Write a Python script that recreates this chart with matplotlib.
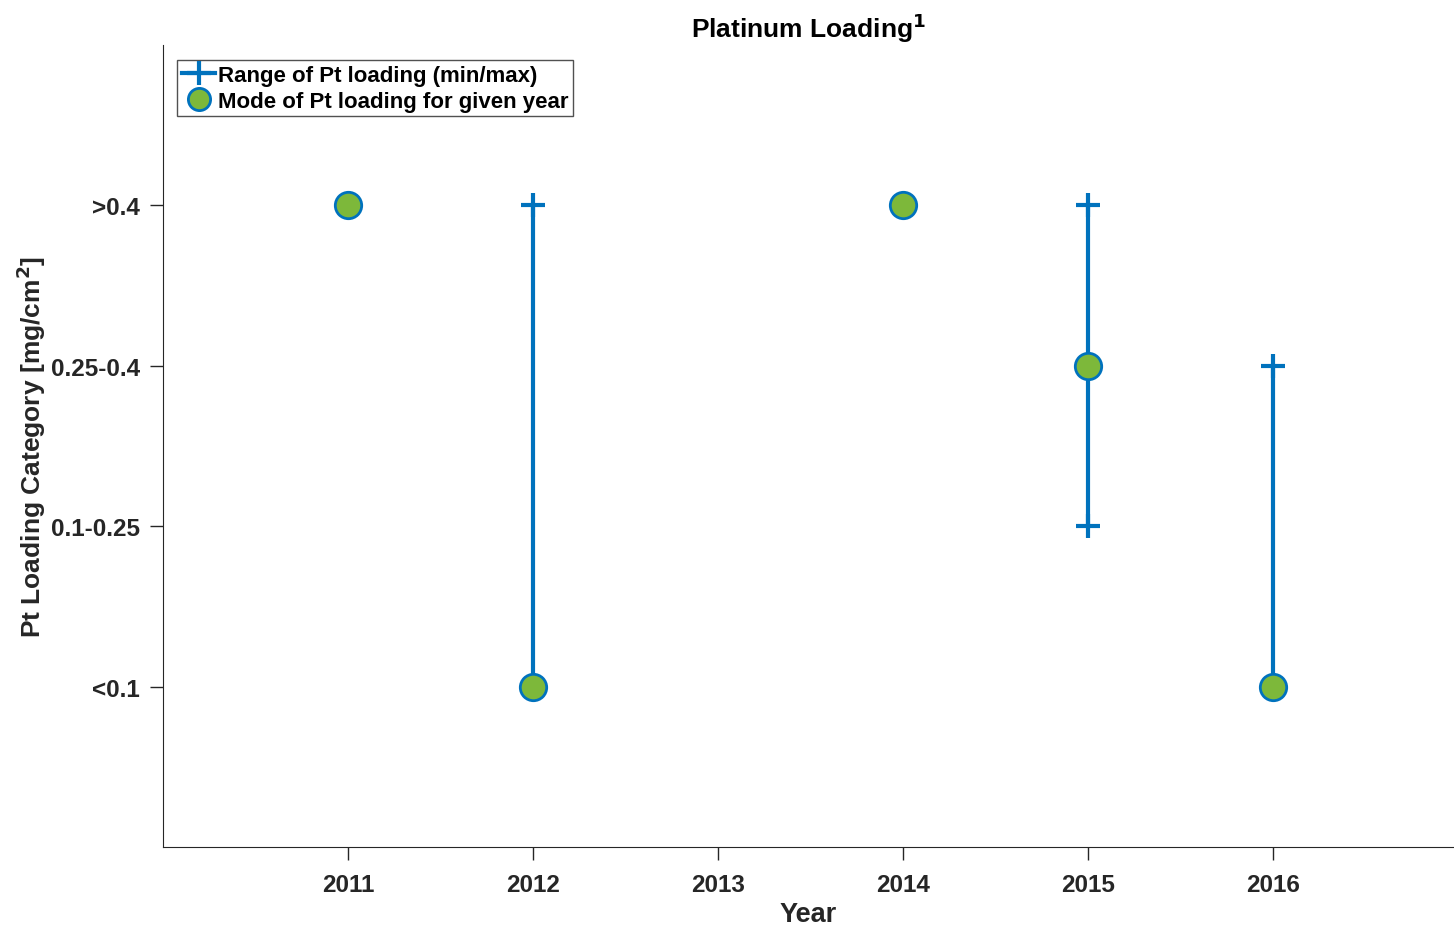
import matplotlib
matplotlib.use("Agg")
import matplotlib.pyplot as plt
from matplotlib.lines import Line2D

plt.rcParams['font.family'] = ['Liberation Sans', 'DejaVu Sans']
plt.rcParams['font.weight'] = 'bold'

# category positions: 1 = <0.1, 2 = 0.1-0.25, 3 = 0.25-0.4, 4 = >0.4
cat_labels = ["<0.1", "0.1-0.25", "0.25-0.4", ">0.4"]
cat_pos = [1, 2, 3, 4]
year_ticks = [2011, 2012, 2013, 2014, 2015, 2016]

range_years = [2012, 2015, 2016]
range_min = [1, 2, 1]
range_max = [4, 4, 3]

mode_years = [2011, 2012, 2014, 2015, 2016]
mode_vals = [4, 1, 4, 3, 1]

blue = "#0072BD"
green = "#7DB83A"
dark = "#262626"

fig = plt.figure(figsize=(14.54, 9.28), dpi=100)
ax = fig.add_axes([0.1121, 0.0862, 0.8879, 0.8642])

for yr, lo, hi in zip(range_years, range_min, range_max):
    ax.plot([yr, yr], [lo, hi], color=blue, linewidth=3, marker="+",
            markersize=17, markeredgewidth=3, zorder=2)

ax.plot(mode_years, mode_vals, linestyle="none", marker="o", markersize=19,
        markerfacecolor=green, markeredgecolor=blue, markeredgewidth=2, zorder=3)

ax.set_xlim(2010, 2016.98)
ax.set_ylim(0, 5)
ax.set_xticks(year_ticks)
ax.set_yticks(cat_pos)
ax.set_yticklabels(cat_labels)
ax.tick_params(direction="out", length=9.5, width=1, colors=dark, labelsize=17.5, pad=7)
ax.tick_params(axis="x", pad=9)
for lbl in ax.get_xticklabels() + ax.get_yticklabels():
    lbl.set_fontweight("bold")
    lbl.set_color(dark)

ax.spines["top"].set_visible(False)
ax.spines["right"].set_visible(False)
ax.spines["left"].set_color(dark)
ax.spines["bottom"].set_color(dark)

ax.set_xlabel("Year", fontsize=19.5, fontweight="bold", color=dark, labelpad=4)
ax.set_ylabel("Pt Loading Category [mg/cm$^\\mathbf{2}$]", fontsize=19,
              fontweight="bold", color=dark, labelpad=2)
ax.set_title("Platinum Loading$^\\mathbf{1}$", fontsize=19, fontweight="bold", pad=6)

handles = [
    Line2D([], [], color=blue, linewidth=3, marker="+", markersize=17, markeredgewidth=3),
    Line2D([], [], linestyle="none", marker="o", markersize=16, markerfacecolor=green,
           markeredgecolor=blue, markeredgewidth=2),
]
leg = ax.legend(handles, ["Range of Pt loading (min/max)", "Mode of Pt loading for given year"],
                loc="upper left", bbox_to_anchor=(0.011, 0.981), fontsize=16,
                frameon=True, fancybox=False, edgecolor=dark,
                handlelength=1.5, handletextpad=0.1, borderpad=0.22, labelspacing=0.2,
                borderaxespad=0)
leg.get_frame().set_linewidth(1)
for t in leg.get_texts():
    t.set_fontweight("bold")

fig.savefig("out.png", dpi=100)
